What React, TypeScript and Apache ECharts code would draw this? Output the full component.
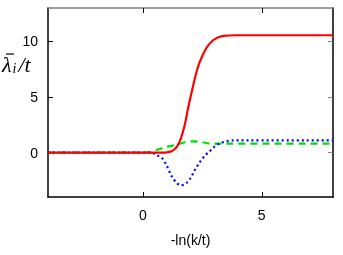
import React, { useEffect, useRef } from "react";
import * as echarts from "echarts";

const redData: [number, number][] = [
  [-4, 0], [0, 0], [0.8, 0], [1.0, 0.02], [1.15, 0.08], [1.3, 0.25], [1.45, 0.6], [1.6, 1.3],
  [1.75, 2.4], [1.9, 4.0], [2.1, 5.9], [2.3, 7.6], [2.5, 8.7], [2.7, 9.5], [2.95, 10.1],
  [3.2, 10.4], [3.4, 10.5], [3.9, 10.55], [8, 10.55],
];
const greenData: [number, number][] = [
  [-4, 0], [0, 0], [0.3, 0.05], [0.6, 0.25], [0.9, 0.45], [1.2, 0.6], [1.5, 0.75],
  [1.8, 0.95], [2.1, 1.0], [2.4, 0.95], [2.7, 0.85], [3.0, 0.8], [8, 0.8],
];
const blueData: [number, number][] = [
  [-4, 0], [0, 0], [0.4, -0.05], [0.6, -0.25], [0.8, -0.5], [1.0, -1.2], [1.2, -2.1],
  [1.4, -2.7], [1.6, -2.95], [1.8, -2.8], [2.0, -2.3], [2.2, -1.5], [2.4, -0.85],
  [2.6, -0.3], [2.8, 0.1], [3.0, 0.5], [3.2, 0.8], [3.5, 1.0], [3.8, 1.1], [8, 1.1],
];
const xTicks = [0, 5];
const yTicks = [0, 5, 10];

export default function App() {
  const ref = useRef<HTMLDivElement>(null);
  useEffect(() => {
    if (!ref.current) return;
    const chart = echarts.init(ref.current, null, { renderer: "svg" });
    const labelFont = { fontFamily: "Liberation Sans", fontSize: 14, color: "#000" };
    chart.setOption({
      animation: false,
      grid: { left: 48, right: 10, top: 8, bottom: 58 },
      xAxis: [
        {
          type: "value", min: -4, max: 8, position: "bottom",
          name: "-ln(k/t)", nameLocation: "middle", nameGap: 36,
          nameTextStyle: { ...labelFont },
          axisLine: { show: true, onZero: false, lineStyle: { color: "#000", width: 1.5 } },
          axisTick: { show: true, inside: true, length: 5, customValues: xTicks, lineStyle: { color: "#000" } },
          axisLabel: { customValues: xTicks, margin: 11, ...labelFont },
          splitLine: { show: false },
        },
        {
          type: "value", min: -4, max: 8, position: "top",
          axisLine: { show: true, onZero: false, lineStyle: { color: "#808080", width: 1.5 } },
          axisTick: { show: true, inside: true, length: 5, customValues: xTicks, lineStyle: { color: "#000" } },
          axisLabel: { show: false },
          splitLine: { show: false },
        },
      ],
      yAxis: [
        {
          type: "value", min: -4, max: 13, position: "left",
          axisLine: { show: true, onZero: false, lineStyle: { color: "#000", width: 1.5 } },
          axisTick: { show: true, inside: true, length: 5, customValues: yTicks, lineStyle: { color: "#000" } },
          axisLabel: { customValues: yTicks, margin: 10, ...labelFont },
          splitLine: { show: false },
        },
        {
          type: "value", min: -4, max: 13, position: "right",
          axisLine: { show: true, onZero: false, lineStyle: { color: "#000", width: 1.5 } },
          axisTick: { show: true, inside: true, length: 5, customValues: yTicks, lineStyle: { color: "#808080" } },
          axisLabel: { show: false },
          splitLine: { show: false },
        },
      ],
      graphic: [
        {
          type: "text", left: 2, top: 53,
          style: {
            text: "{a|λ}{b|i}{a|/t}",
            rich: {
              a: { fontFamily: "Liberation Serif", fontStyle: "italic", fontSize: 22, fill: "#000" },
              b: { fontFamily: "Liberation Serif", fontStyle: "italic", fontSize: 14, fill: "#000", padding: [9, 2, 0, 1] },
            },
          },
        },
        {
          type: "line",
          shape: { x1: 6, y1: 54, x2: 14, y2: 54 },
          style: { stroke: "#000", lineWidth: 1.2 },
        },
      ],
      series: [
        {
          type: "line", data: greenData, smooth: 0.3, symbol: "none",
          lineStyle: { color: "#00dd00", width: 2.2, type: [7, 5] },
        },
        {
          type: "line", data: blueData, smooth: 0.3, symbol: "none",
          lineStyle: { color: "#0000ff", width: 2.2, type: [2, 3] },
        },
        {
          type: "line", data: redData, smooth: 0.4, symbol: "none",
          lineStyle: { color: "#ff0000", width: 2.2, type: "solid" },
        },
      ],
    });
    return () => chart.dispose();
  }, []);
  return <div ref={ref} style={{ position: "fixed", left: 0, top: 0, width: 343, height: 255 }} />;
}
